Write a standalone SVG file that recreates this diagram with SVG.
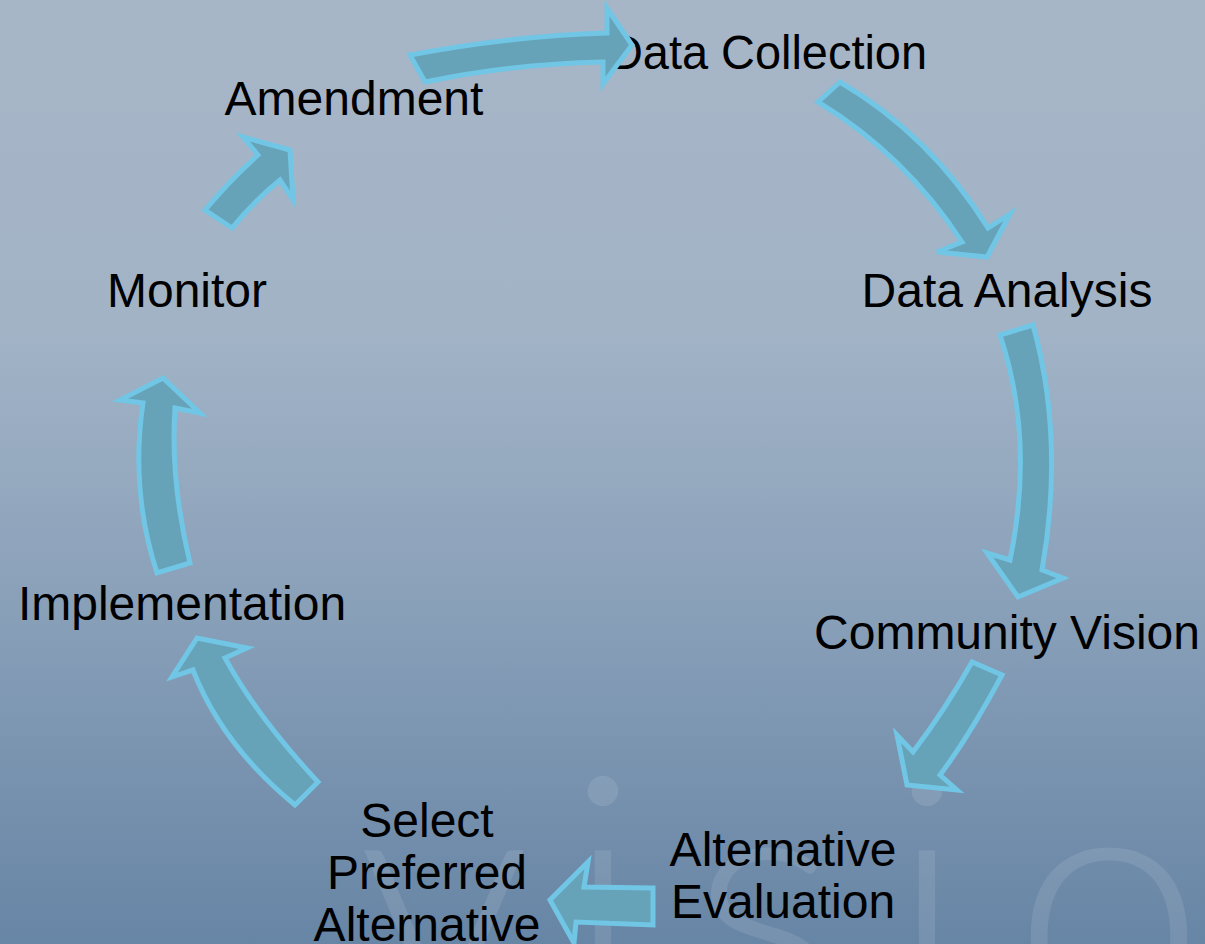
<svg xmlns="http://www.w3.org/2000/svg" width="1205" height="944" viewBox="0 0 1205 944">
<defs>
<linearGradient id="bg" x1="0" y1="0" x2="0" y2="1">
<stop offset="0" stop-color="#a7b6c7"/>
<stop offset="0.35" stop-color="#a2b3c6"/>
<stop offset="0.6" stop-color="#8da3bb"/>
<stop offset="1" stop-color="#6785a5"/>
</linearGradient>
<style>
.lbl{font-family:"Liberation Sans",Arial,sans-serif;font-size:48px;fill:#000;text-anchor:middle}
.arr{fill:#66a3b8;stroke:#70c6e4;stroke-width:5;stroke-linejoin:miter}
.wm{font-family:Lato,"Liberation Sans",sans-serif;font-weight:300;font-size:345px;fill:#ffffff;fill-opacity:0.1;text-anchor:middle}
</style>
</defs>
<rect x="0" y="0" width="1205" height="944" fill="url(#bg)"/>
<text class="wm" y="1022"><tspan x="444">v</tspan><tspan x="603">i</tspan><tspan x="765">s</tspan><tspan x="927">i</tspan><tspan x="1109">o</tspan><tspan x="1290">n</tspan></text>
<g id="data-collection"><text class="lbl" x="768" y="69" textLength="318" lengthAdjust="spacingAndGlyphs">Data Collection</text></g>
<g id="data-analysis"><text class="lbl" x="1007" y="307">Data Analysis</text></g>
<g id="community-vision"><text class="lbl" x="1007" y="649">Community Vision</text></g>
<g id="alternative-evaluation"><text class="lbl" x="783" y="866">Alternative</text><text class="lbl" x="783" y="918">Evaluation</text></g>
<g id="select-preferred-alternative"><text class="lbl" x="427" y="837">Select</text><text class="lbl" x="427" y="889">Preferred</text><text class="lbl" x="427" y="941">Alternative</text></g>
<g id="implementation"><text class="lbl" x="182" y="620">Implementation</text></g>
<g id="monitor"><text class="lbl" x="187" y="307">Monitor</text></g>
<g id="amendment"><text class="lbl" x="354" y="115">Amendment</text></g>
<g id="connectors">
<path class="arr" d="M410,55 Q510,36 607,33 L607,8 L632,45 L603,84 L603,62 Q510,64 425,82 Z"/>
<path class="arr" d="M840,82 Q930,135 988,228 L1010,214 L987,257 L937,252 L962,242 Q905,155 818,102 Z"/>
<path class="arr" d="M1033,325 Q1065,440 1042,570 L1063,578 L1018,597 L987,553 L1010,560 Q1035,440 1000,335 Z"/>
<path class="arr" d="M1002,675 Q970,735 940,775 L957,790 L907,785 L897,735 L913,752 Q945,710 972,662 Z"/>
<path class="arr" d="M653,888 L584,887 L588,862 L550,900 L574,943 L576,922 L653,925 Z"/>
<path class="arr" d="M225,658 L247,648 L197,638 L172,677 L193,670 Q222,745 295,805 L318,782 Q258,718 225,658 Z"/>
<path class="arr" d="M175,408 L200,413 L163,378 L120,400 L143,403 Q130,490 157,573 L190,563 Q170,480 175,408 Z"/>
<path class="arr" d="M258,155 L243,137 L290,150 L293,200 L280,180 Q255,200 232,228 L205,210 Q230,180 258,155 Z"/>
</g>
</svg>
